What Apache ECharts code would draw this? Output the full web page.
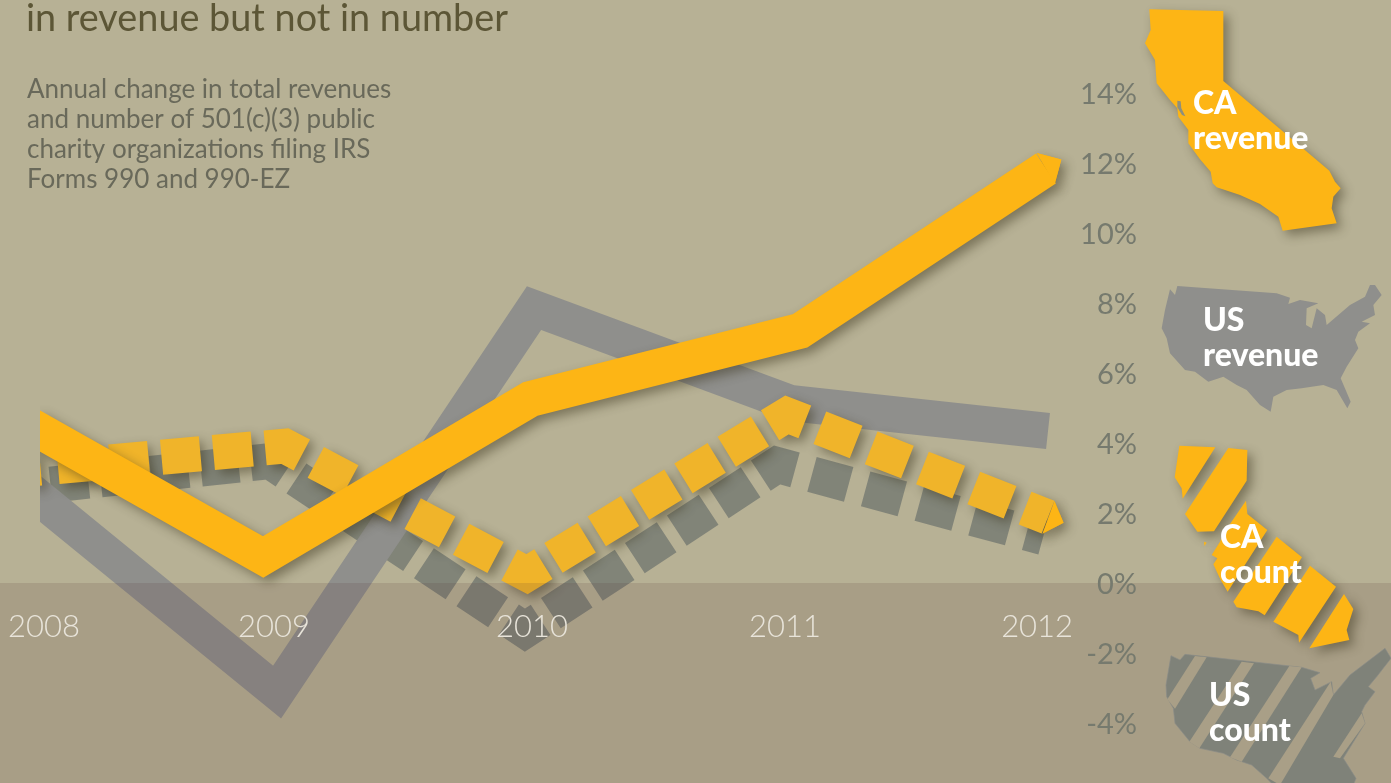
<!DOCTYPE html>
<html>
<head>
<meta charset="utf-8">
<style>
  html, body { margin: 0; padding: 0; background: #b7b195; overflow: hidden; }
  #mychart { width: 1391px; height: 783px; }
</style>
</head>
<body>
<div id="mychart"></div>
<script src="https://cdn.jsdelivr.net/npm/echarts@6/dist/echarts.min.js"></script>
<script>
// axis labels
const yearLabels = ["2008", "2009", "2010", "2011", "2012"];
// the year labels are not evenly spaced in the original
const yearLabelAt = [2008.015, 2008.9, 2009.892, 2010.865, 2011.835];

// annual change, %, as [position along the year axis, value]
const caRevenue = [[2007.96, 4.57], [2008.858, 0.8], [2009.885, 5.31], [2010.923, 7.26], [2011.869, 11.9]];
const usRevenue = [[2007.96, 2.71], [2008.912, -3.06], [2009.9, 7.91], [2010.885, 5.2], [2011.877, 4.4]];
const caCount = [[2007.96, 3.31], [2008.942, 3.97], [2009.873, 0.31], [2010.873, 4.86], [2011.877, 1.94]];
const usCount = [[2007.96, 2.8], [2008.885, 3.54], [2009.865, -1.29], [2010.835, 3.43], [2011.858, 1.37]];

const subtitleLines = [
  "Annual change in total revenues",
  "and number of 501(c)(3) public",
  "charity organizations filing IRS",
  "Forms 990 and 990-EZ",
];

const ORANGE = "#fdb515";
const BG = "#b7b195";
const FONT = "Lato";
const SHADOW = { shadowColor: "rgba(50,45,20,0.45)", shadowBlur: 11, shadowOffsetX: 5, shadowOffsetY: 5 };

// dash runs are tuned per segment so that one dash sits on each bend
const caDash = [11, 17.5, 39, 13, 39, 13, 39, 13, 39, 13,
  39, 15.8, 39, 15.8, 39, 15.8, 39, 15.8, 39, 15.8,
  39, 11.8, 39, 11.8, 39, 11.8, 39, 11.8, 39, 11.8, 39, 11.8,
  39, 16.1, 39, 16.1, 39, 16.1, 39, 16.1, 39, 16.1, 60, 100];
const usDash = [10, 11, 38, 12.4, 38, 12.4, 38, 12.4, 38, 12.3,
  38, 13, 38, 13, 38, 13, 38, 13, 38, 13, 38, 13,
  38, 12.2, 38, 12.2, 38, 12.2, 38, 12.2, 38, 12.2, 38, 12.2,
  38, 17.6, 38, 17.6, 38, 17.6, 38, 17.6, 38, 17.6, 60, 100];

// legend silhouettes, traced at 3x, drawn scaled back down
const shapeCA = [[268,28],[490,33],[490,243],[808,512],[825,545],[842,565],[820,590],[815,625],[830,670],[668,692],[655,650],[600,612],[540,585],[470,562],[458,550],[452,515],[420,478],[385,430],[385,390],[355,350],[352,325],[330,300],[290,250],[285,180],[255,130],[272,90]];
const shapeBay = [[352,302],[362,304],[364,325],[376,349],[366,345],[352,322]];
const shapeUS = [[352,858],[650,880],[690,893],[685,912],[720,900],[775,910],[740,925],[738,975],[755,985],[770,925],[795,945],[800,975],[870,915],[915,890],[930,855],[945,855],[965,885],[940,915],[945,945],[905,965],[930,970],[895,995],[885,1020],[895,1045],[860,1100],[842,1135],[872,1205],[862,1225],[830,1170],[790,1155],[725,1165],[680,1170],[640,1190],[632,1235],[600,1215],[560,1170],[530,1155],[490,1130],[445,1145],[405,1115],[375,1110],[330,1060],[320,1015],[305,985],[315,930],[330,868],[345,885]];
const shapeCACount = [
  [[358,77],[466,82],[368,236],[365,205],[344,172]],
  [[505,84],[562,90],[560,182],[462,334],[412,335],[375,282]],
  [[558,242],[562,282],[622,330],[503,515],[482,480],[460,433],[472,415],[455,405],[480,365],[492,338]],
  [[650,350],[726,412],[614,586],[595,574],[530,562],[520,545]],
  [[750,437],[828,500],[717,668],[715,645],[640,605]],
  [[852,522],[880,567],[860,630],[868,660],[748,685]],
  [[432,365],[440,368],[433,378]],
];
const shapeUSCount = [[333,707],[360,720],[375,703],[690,738],[725,742],[780,758],[752,775],[765,810],[815,785],[820,825],[870,765],[975,685],[993,715],[950,770],[925,800],[945,815],[915,855],[905,875],[915,910],[850,1015],[888,1075],[880,1095],[640,1095],[620,1075],[575,1035],[530,1020],[490,1000],[420,985],[390,965],[345,910],[340,865],[320,830],[318,795]];
const stripesUSCount = [
  [[405,708],[440,712],[345,866],[322,838]],
  [[545,725],[582,730],[418,985],[388,965]],
  [[688,738],[725,742],[545,1025],[510,1012]],
  [[812,785],[820,825],[660,1095],[625,1075]],
  [[905,880],[915,910],[840,1015],[820,1010]],
];

function icon(points, ox, oy, fill, z, extra) {
  return {
    type: "polygon", silent: true, z: z,
    x: ox, y: oy, scaleX: 1 / 3, scaleY: 1 / 3,
    shape: { points: points },
    style: Object.assign({ fill: fill }, extra),
  };
}
function iconLabel(text, x, y) {
  return {
    type: "text", silent: true, z: 40, x: x, y: y,
    style: { text: text, fill: "#fff", font: "900 32px " + FONT, lineHeight: 35 },
  };
}

const graphicEls = [
  // lines are cut off square at the left edge of the plot
  { type: "rect", silent: true, z: 9, shape: { x: 0, y: 380, width: 40, height: 203 }, style: { fill: BG } },
  // darker band below the zero line, laid over the lines
  { type: "rect", silent: true, z: 10, shape: { x: 0, y: 583, width: 1391, height: 200 }, style: { fill: "rgba(90,57,56,0.15)" } },
  icon(shapeCA, 1060, 0, ORANGE, 20, SHADOW),
  icon(shapeBay, 1060, 0, "#8f8f7c", 21),
  icon(shapeUS, 1060, 0, "#8f8f8c", 20),
  icon(shapeUSCount, 1060, 420, "#7f8279", 20, { stroke: "#8b8d88", lineWidth: 2 }),
  iconLabel("CA\nrevenue", 1193, 86),
  iconLabel("US\nrevenue", 1203, 303),
  iconLabel("CA\ncount", 1220, 520),
  iconLabel("US\ncount", 1209, 678),
];
shapeCACount.forEach((p) => graphicEls.push(icon(p, 1060, 420, ORANGE, 20, SHADOW)));
stripesUSCount.forEach((p) => graphicEls.push(icon(p, 1060, 420, "#a99f87", 21)));

function lineSeries(name, data, width, color, z, dash, shadow) {
  return {
    name: name,
    type: "line",
    data: data,
    z: z,
    symbol: "none",
    silent: true,
    clip: true,
    animation: false,
    lineStyle: Object.assign(
      { width: width, color: color, type: dash || "solid", cap: "butt", join: "miter", miterLimit: 10 },
      shadow ? SHADOW : {}
    ),
  };
}

// the orange lines end in a shallow arrow head on their last point.
// drawn twice: the shadow goes under the line, the clean head over it
function arrowHead(rows, z, size, rotate, offset, shadow) {
  return {
    type: "scatter",
    data: [rows[rows.length - 1]],
    z: z,
    silent: true,
    animation: false,
    symbol: "triangle",
    symbolSize: size,
    symbolRotate: rotate,
    symbolOffset: offset,
    itemStyle: Object.assign({ color: ORANGE, opacity: 1 }, shadow ? SHADOW : {}),
  };
}

const mychart = echarts.init(document.getElementById("mychart"));
mychart.setOption({
  backgroundColor: BG,
  animation: false,
  title: [
    {
      text: "in revenue but not in number",
      left: 26, top: 0, padding: 0,
      textStyle: { fontFamily: FONT, fontSize: 37.8, fontWeight: 400, color: "#5c5636" },
    },
    {
      text: subtitleLines.join("\n"),
      left: 27, top: 75, padding: 0,
      textStyle: { fontFamily: FONT, fontSize: 26, fontWeight: 400, color: "#69695a", lineHeight: 30 },
    },
  ],
  graphic: graphicEls,
  grid: { left: 40, top: 95, width: 1040, height: 630 },
  xAxis: {
    type: "value",
    min: 2008, max: 2012,
    z: 50,
    offset: -140, // labels sit just under the zero line
    axisLine: { show: false },
    axisTick: { show: false },
    splitLine: { show: false },
    axisLabel: {
      customValues: yearLabelAt,
      formatter: (v) => yearLabels[yearLabelAt.indexOf(v)],
      margin: 26,
      fontFamily: FONT, fontSize: 31, fontWeight: 300, color: "#e8e4da",
    },
  },
  yAxis: {
    type: "value",
    position: "right",
    min: -4, max: 14, interval: 2,
    z: 50,
    axisLine: { show: false },
    axisTick: { show: false },
    splitLine: { show: false },
    axisLabel: {
      formatter: "{value}%",
      align: "right",
      margin: 57,
      padding: [4, 0, 0, 0],
      fontFamily: FONT, fontSize: 29, fontWeight: 400, color: "#767a6e",
    },
  },
  series: [
    lineSeries("US count", usCount, 36, "rgba(122,125,116,0.88)", 2, usDash),
    lineSeries("US revenue", usRevenue, 36, "#8f8f8c", 3),
    arrowHead(caCount, 3.9, [35, 16], -110, [8, 3], true),
    lineSeries("CA count", caCount, 35, "#f0b42a", 4, caDash, true),
    arrowHead(caCount, 4.5, [35, 16], -110, [8, 3]),
    arrowHead(caRevenue, 4.9, [36, 18], -60, [7.6, -4.4], true),
    lineSeries("CA revenue", caRevenue, 36, ORANGE, 5, null, true),
    arrowHead(caRevenue, 5.5, [36, 18], -60, [7.6, -4.4]),
  ],
});
</script>
</body>
</html>
